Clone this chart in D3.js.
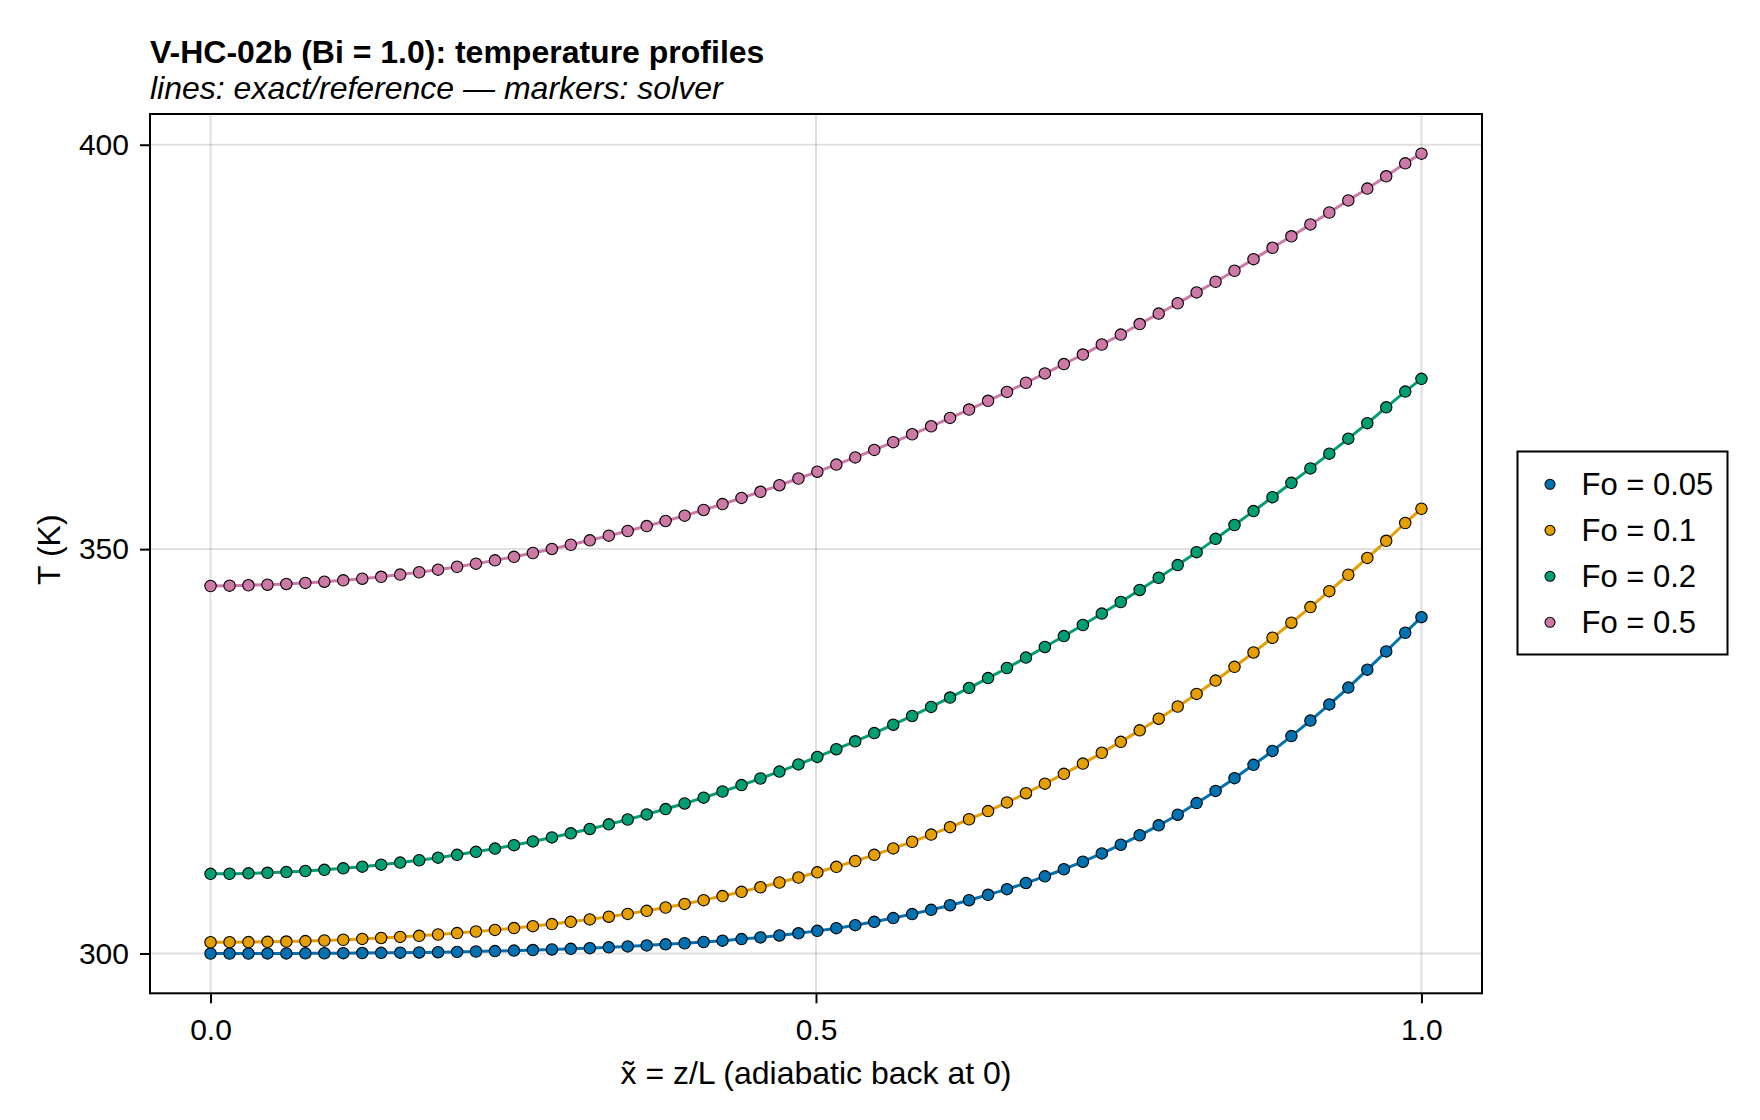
<!DOCTYPE html>
<html><head><meta charset="utf-8">
<script src="https://cdn.jsdelivr.net/npm/d3@7"></script>
<style>
html,body{margin:0;padding:0;background:#fff;}
svg{display:block;font-family:"Liberation Sans",Arial,Helvetica,sans-serif;}
</style></head><body>
<svg id="chart" width="1760" height="1120"></svg>
<script>
// ---------- data ----------
const xNodes = [0, 0.0157, 0.0313, 0.0470, 0.0626, 0.0783, 0.0940, 0.1096, 0.1253, 0.1409,
  0.1566, 0.1723, 0.1879, 0.2036, 0.2192, 0.2349, 0.2506, 0.2662, 0.2819, 0.2975,
  0.3132, 0.3289, 0.3445, 0.3602, 0.3758, 0.3915, 0.4072, 0.4228, 0.4385, 0.4541,
  0.4698, 0.4855, 0.5011, 0.5168, 0.5324, 0.5481, 0.5638, 0.5794, 0.5951, 0.6107,
  0.6264, 0.6421, 0.6577, 0.6734, 0.6890, 0.7047, 0.7204, 0.7360, 0.7517, 0.7673,
  0.7830, 0.7987, 0.8143, 0.8300, 0.8456, 0.8613, 0.8770, 0.8926, 0.9083, 0.9239,
  0.9396, 0.9553, 0.9709, 0.9866, 1.0];

const seriesNames = ["Fo = 0.05", "Fo = 0.1", "Fo = 0.2", "Fo = 0.5"];

const tempFo005 = [300.00, 300.00, 300.00, 300.01, 300.01, 300.02, 300.03, 300.04, 300.06, 300.08,
  300.10, 300.13, 300.16, 300.20, 300.25, 300.30, 300.36, 300.43, 300.50, 300.58,
  300.66, 300.76, 300.88, 301.00, 301.13, 301.27, 301.42, 301.59, 301.78, 301.99,
  302.23, 302.50, 302.80, 303.13, 303.50, 303.92, 304.38, 304.87, 305.40, 305.97,
  306.59, 307.26, 307.96, 308.72, 309.54, 310.42, 311.35, 312.38, 313.45, 314.62,
  315.85, 317.16, 318.60, 320.10, 321.68, 323.33, 325.05, 326.88, 328.80, 330.80,
  332.88, 335.10, 337.35, 339.66, 341.59];

const tempFo01 = [301.39, 301.40, 301.41, 301.44, 301.48, 301.54, 301.61, 301.70, 301.80, 301.92,
  302.05, 302.19, 302.35, 302.53, 302.72, 302.92, 303.14, 303.38, 303.64, 303.92,
  304.22, 304.55, 304.90, 305.28, 305.69, 306.13, 306.60, 307.10, 307.63, 308.19,
  308.78, 309.40, 310.04, 310.72, 311.44, 312.20, 312.99, 313.82, 314.70, 315.62,
  316.60, 317.61, 318.68, 319.82, 321.00, 322.22, 323.48, 324.82, 326.17, 327.59,
  329.03, 330.54, 332.10, 333.75, 335.45, 337.22, 339.04, 340.90, 342.83, 344.80,
  346.83, 348.91, 351.03, 353.23, 354.99];

const tempFo02 = [309.85, 309.86, 309.91, 309.98, 310.07, 310.20, 310.35, 310.53, 310.74, 310.98,
  311.24, 311.53, 311.85, 312.20, 312.57, 312.97, 313.40, 313.86, 314.35, 314.86,
  315.40, 315.97, 316.57, 317.20, 317.86, 318.55, 319.27, 320.03, 320.82, 321.64,
  322.49, 323.38, 324.31, 325.26, 326.24, 327.25, 328.29, 329.37, 330.49, 331.65,
  332.84, 334.05, 335.30, 336.59, 337.90, 339.25, 340.62, 342.03, 343.46, 344.95,
  346.46, 348.03, 349.62, 351.27, 352.98, 354.70, 356.42, 358.20, 359.98, 361.80,
  363.66, 365.57, 367.53, 369.48, 371.05];

const tempFo05 = [345.44, 345.48, 345.53, 345.60, 345.69, 345.82, 345.97, 346.14, 346.34, 346.58,
  346.85, 347.14, 347.46, 347.82, 348.20, 348.61, 349.05, 349.52, 350.02, 350.54,
  351.09, 351.66, 352.24, 352.85, 353.48, 354.14, 354.84, 355.57, 356.33, 357.09,
  357.90, 358.73, 359.57, 360.45, 361.34, 362.27, 363.22, 364.20, 365.19, 366.22,
  367.26, 368.34, 369.44, 370.57, 371.72, 372.88, 374.06, 375.30, 376.53, 377.83,
  379.12, 380.40, 381.74, 383.06, 384.42, 385.85, 387.26, 388.68, 390.15, 391.62,
  393.12, 394.58, 396.10, 397.70, 398.90];

const xTicks = [0, 0.5, 1.0];
const xTickLabels = ["0.0", "0.5", "1.0"];
const yTicks = [300, 350, 400];
const yTickLabels = ["300", "350", "400"];

const titleText = "V-HC-02b (Bi = 1.0): temperature profiles";
const subtitleText = "lines: exact/reference \u2014 markers: solver";
const xLabelText = "x\u0303 = z/L (adiabatic back at 0)";
const yLabelText = "T (K)";

// ---------- styles / layout ----------
const colors = ["#0072B2", "#E69F00", "#009E73", "#CC79A7"];
const FONT = '"Liberation Sans", Arial, Helvetica, sans-serif';
const W = 1760, H = 1120;
const plot = {left: 150, right: 1482, top: 114, bottom: 993.3};

const seriesValues = [tempFo005, tempFo01, tempFo02, tempFo05];
const series = seriesNames.map((name, i) => ({
  name, color: colors[i],
  points: xNodes.map((xv, j) => ({x: xv, t: seriesValues[i][j]}))
}));

const x = d3.scaleLinear().domain([-0.05, 1.05]).range([plot.left, plot.right]);
const y = d3.scaleLinear().domain([295.08, 403.8]).range([plot.bottom, plot.top]);

const svg = d3.select("#chart");
svg.append("rect").attr("width", W).attr("height", H).attr("fill", "#fff");

// grid
const grid = svg.append("g");
grid.selectAll("line.vg").data(xTicks).join("line").attr("class", "vg")
  .attr("x1", d => x(d)).attr("x2", d => x(d))
  .attr("y1", plot.top).attr("y2", plot.bottom)
  .attr("stroke", "#000").attr("stroke-opacity", 0.12).attr("stroke-width", 2);
grid.selectAll("line.hg").data(yTicks).join("line").attr("class", "hg")
  .attr("y1", d => y(d)).attr("y2", d => y(d))
  .attr("x1", plot.left).attr("x2", plot.right)
  .attr("stroke", "#000").attr("stroke-opacity", 0.12).attr("stroke-width", 2);

// clip
svg.append("defs").append("clipPath").attr("id", "clip")
  .append("rect").attr("x", plot.left).attr("y", plot.top)
  .attr("width", plot.right - plot.left).attr("height", plot.bottom - plot.top);

const dataG = svg.append("g").attr("clip-path", "url(#clip)");
const lineGen = d3.line().x(d => x(d.x)).y(d => y(d.t)).curve(d3.curveMonotoneX);

series.forEach(s => {
  dataG.append("path").datum(s.points)
    .attr("d", lineGen).attr("fill", "none")
    .attr("stroke", s.color).attr("stroke-width", 3);
});
series.forEach(s => {
  dataG.append("g").selectAll("circle").data(s.points).join("circle")
    .attr("cx", d => x(d.x)).attr("cy", d => y(d.t)).attr("r", 5.7)
    .attr("fill", s.color).attr("stroke", "#000").attr("stroke-width", 1.1);
});

// frame
svg.append("rect").attr("x", plot.left).attr("y", plot.top)
  .attr("width", plot.right - plot.left).attr("height", plot.bottom - plot.top)
  .attr("fill", "none").attr("stroke", "#000").attr("stroke-width", 2);

// axes
const xAxis = d3.axisBottom(x).tickValues(xTicks)
  .tickFormat((d, i) => xTickLabels[i]).tickSize(10).tickPadding(15);
svg.append("g").attr("transform", `translate(0,${plot.bottom})`).call(xAxis)
  .call(g => g.select(".domain").remove())
  .attr("font-size", 30).attr("font-family", FONT)
  .call(g => g.selectAll(".tick line").attr("stroke", "#000").attr("stroke-width", 2))
  .call(g => g.selectAll(".tick text").attr("fill", "#000"));

const yAxis = d3.axisLeft(y).tickValues(yTicks)
  .tickFormat((d, i) => yTickLabels[i]).tickSize(10).tickPadding(11);
svg.append("g").attr("transform", `translate(${plot.left},0)`).call(yAxis)
  .call(g => g.select(".domain").remove())
  .attr("font-size", 30).attr("font-family", FONT)
  .call(g => g.selectAll(".tick line").attr("stroke", "#000").attr("stroke-width", 2))
  .call(g => g.selectAll(".tick text").attr("fill", "#000"));

// titles
svg.append("text").attr("x", plot.left).attr("y", 63)
  .attr("font-family", FONT).attr("font-size", 32).attr("font-weight", "bold")
  .attr("fill", "#000").text(titleText);
svg.append("text").attr("x", plot.left).attr("y", 99)
  .attr("font-family", FONT).attr("font-size", 32).attr("font-style", "italic")
  .attr("fill", "#000").text(subtitleText);

// axis labels
svg.append("text").attr("x", (plot.left + plot.right) / 2).attr("y", 1084)
  .attr("text-anchor", "middle").attr("font-family", FONT).attr("font-size", 32)
  .attr("fill", "#000").text(xLabelText);
svg.append("text").attr("transform", `translate(60,${(plot.top + plot.bottom) / 2 - 4}) rotate(-90)`)
  .attr("text-anchor", "middle").attr("font-family", FONT).attr("font-size", 32)
  .attr("fill", "#000").text(yLabelText);

// legend
const leg = svg.append("g");
leg.append("rect").attr("x", 1517.5).attr("y", 451.5).attr("width", 210).attr("height", 203)
  .attr("fill", "#fff").attr("stroke", "#000").attr("stroke-width", 2);
const items = leg.selectAll("g.item").data(series).join("g").attr("class", "item")
  .attr("transform", (d, i) => `translate(0,${484.3 + i * 46})`);
items.append("circle").attr("cx", 1550).attr("cy", 0).attr("r", 5)
  .attr("fill", d => d.color).attr("stroke", "#000").attr("stroke-width", 1.1);
items.append("text").attr("x", 1581.5).attr("y", 11)
  .attr("font-family", FONT).attr("font-size", 31).attr("fill", "#000")
  .text(d => d.name);
</script>
</body></html>
